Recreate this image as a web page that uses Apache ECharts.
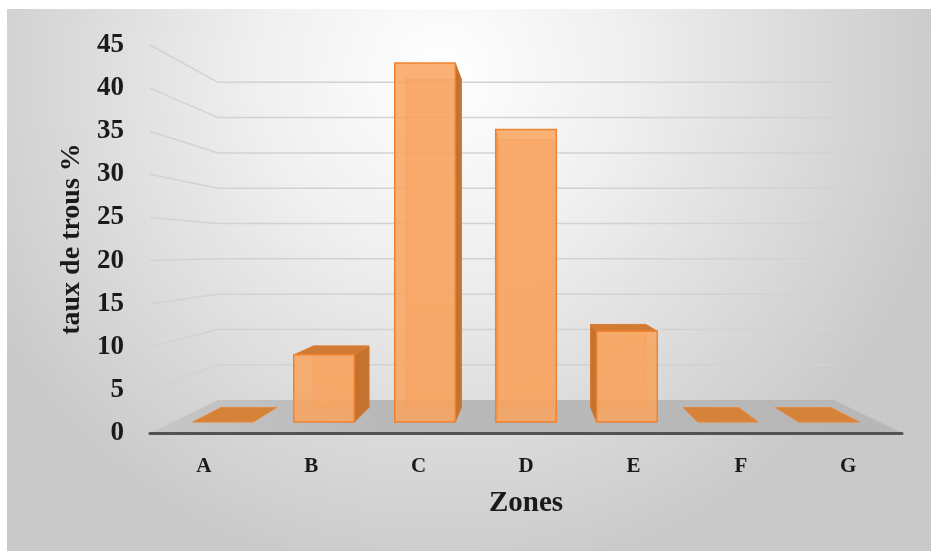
<!DOCTYPE html>
<html>
<head>
<meta charset="utf-8">
<script src="https://cdn.jsdelivr.net/npm/echarts@6/dist/echarts.min.js"></script>
<style>
html, body { margin: 0; padding: 0; background: #fff; }
#chart { width: 931px; height: 551px; }
</style>
</head>
<body>
<div id="chart"></div>
<script>
var zones = ['A', 'B', 'C', 'D', 'E', 'F', 'G'];
var tauxTrous = [0, 8.3, 44.3, 36.1, 11.2, 0, 0];
var yTicks = [5, 10, 15, 20, 25, 30, 35, 40, 45];

// perspective (vue 3D façon Excel)
var EYE = 21.1;       // niveau de l'oeil, en valeur
var S_WALL = 0.819;   // mur du fond
var S_FRONT = 0.94;   // face avant des barres
var S_BACK = 0.86;    // face arriere des barres

var serif = '"Times New Roman", "Liberation Serif", serif';

function vanish(api) {
  var a = api.coord([0, EYE]);
  var b = api.coord([zones.length - 1, EYE]);
  return [(a[0] + b[0]) / 2, a[1]];
}
function proj(vp, p, s) {
  return [vp[0] + (p[0] - vp[0]) * s, vp[1] + (p[1] - vp[1]) * s];
}

function renderFloor(params, api) {
  var vp = vanish(api);
  var half = api.size([1, 0])[0] / 2;
  var l = api.coord([0, 0]), r = api.coord([zones.length - 1, 0]);
  var fl = [l[0] - half, l[1]], fr = [r[0] + half, r[1]];
  return {
    type: 'polygon',
    shape: { points: [fl, fr, proj(vp, fr, S_WALL), proj(vp, fl, S_WALL)] },
    style: {
      fill: new echarts.graphic.LinearGradient(0, 0, 1, 0, [
        { offset: 0, color: '#c6c6c6' },
        { offset: 0.3, color: '#b9b9b9' },
        { offset: 1, color: '#b7b7b7' }
      ])
    }
  };
}

function renderWall(params, api) {
  var v = api.value(1);
  var vp = vanish(api);
  var half = api.size([1, 0])[0] / 2;
  var y = api.coord([0, v])[1];
  var left = api.coord([0, v])[0] - half;
  var right = api.coord([zones.length - 1, v])[0] + half;
  var p0 = [left, y];
  return {
    type: 'polyline',
    shape: { points: [p0, proj(vp, p0, S_WALL), proj(vp, [right, y], S_WALL)] },
    style: { stroke: '#d2d2d2', lineWidth: 1.5, fill: null }
  };
}

function renderBar(params, api) {
  var idx = api.value(0), val = api.value(1);
  var vp = vanish(api);
  var base = api.coord([idx, 0]), top = api.coord([idx, val]);
  var hw = api.size([1, 0])[0] * 0.3;
  var fl = [base[0] - hw, base[1]], fr = [base[0] + hw, base[1]];
  var tl = [base[0] - hw, top[1]], tr = [base[0] + hw, top[1]];
  function F(p) { return proj(vp, p, S_FRONT); }
  function B(p) { return proj(vp, p, S_BACK); }
  var children = [];
  if (val <= 0) {
    children.push({
      type: 'polygon',
      shape: { points: [F(fl), F(fr), B(fr), B(fl)] },
      style: { fill: '#d6833a', stroke: '#e8883a', lineWidth: 1 }
    });
    return { type: 'group', children: children };
  }
  // face arriere (vue a travers)
  children.push({
    type: 'polygon',
    shape: { points: [B(fl), B(fr), B(tr), B(tl)] },
    style: { fill: 'rgba(240,150,80,0.4)', stroke: 'rgba(215,110,40,0.55)', lineWidth: 1 }
  });
  // cote
  var side = base[0] < vp[0] ? [F(fr), B(fr), B(tr), F(tr)] : [F(fl), B(fl), B(tl), F(tl)];
  children.push({
    type: 'polygon',
    shape: { points: side },
    style: { fill: '#c4732f', stroke: '#d47830', lineWidth: 1 }
  });
  // dessus
  if (val < EYE) {
    children.push({
      type: 'polygon',
      shape: { points: [F(tl), F(tr), B(tr), B(tl)] },
      style: { fill: '#d07a33', stroke: '#e08035', lineWidth: 1 }
    });
  }
  // face avant
  children.push({
    type: 'polygon',
    shape: { points: [F(fl), F(fr), F(tr), F(tl)] },
    style: { fill: 'rgba(248,164,96,0.86)', stroke: '#ee8332', lineWidth: 1.5 }
  });
  return { type: 'group', children: children };
}

var myChart = echarts.init(document.getElementById('chart'));
var option = {
  animation: false,
  graphic: [{
    type: 'rect',
    z: -10,
    silent: true,
    shape: { x: 7, y: 9, width: 924, height: 542 },
    style: {
      fill: new echarts.graphic.RadialGradient(0.47, 0.12, 0.95, [
        { offset: 0, color: '#ffffff' },
        { offset: 0.35, color: '#f0f0f0' },
        { offset: 1, color: '#c9c9c9' }
      ])
    }
  }],
  grid: { left: 150, right: 29, top: 45, bottom: 118 },
  xAxis: {
    type: 'category',
    data: zones,
    z: 10,
    axisLine: { lineStyle: { color: '#525252', width: 3 } },
    axisTick: { show: false },
    axisLabel: { margin: 23, fontFamily: serif, fontWeight: 'bold', fontSize: 21, color: '#1a1a1a' },
    name: 'Zones',
    nameLocation: 'middle',
    nameGap: 56,
    nameTextStyle: { fontFamily: serif, fontWeight: 'bold', fontSize: 29, color: '#1a1a1a' }
  },
  yAxis: {
    type: 'value',
    min: 0,
    max: 45,
    interval: 5,
    axisLine: { show: false },
    axisTick: { show: false },
    splitLine: { show: false },
    axisLabel: { margin: 26, fontFamily: serif, fontWeight: 'bold', fontSize: 27, color: '#1a1a1a' },
    name: 'taux de trous %',
    nameLocation: 'middle',
    nameRotate: 90,
    nameGap: 61,
    nameTextStyle: { fontFamily: serif, fontWeight: 'bold', fontSize: 28, color: '#1a1a1a' }
  },
  series: [
    {
      type: 'custom',
      silent: true,
      z: 1,
      renderItem: renderFloor,
      data: [[0, 0]]
    },
    {
      type: 'custom',
      silent: true,
      z: 1,
      renderItem: renderWall,
      data: yTicks.map(function (v) { return [0, v]; })
    },
    {
      type: 'custom',
      silent: true,
      z: 3,
      renderItem: renderBar,
      data: zones.map(function (z, i) { return [i, tauxTrous[i]]; })
    }
  ]
};
myChart.setOption(option);
</script>
</body>
</html>
